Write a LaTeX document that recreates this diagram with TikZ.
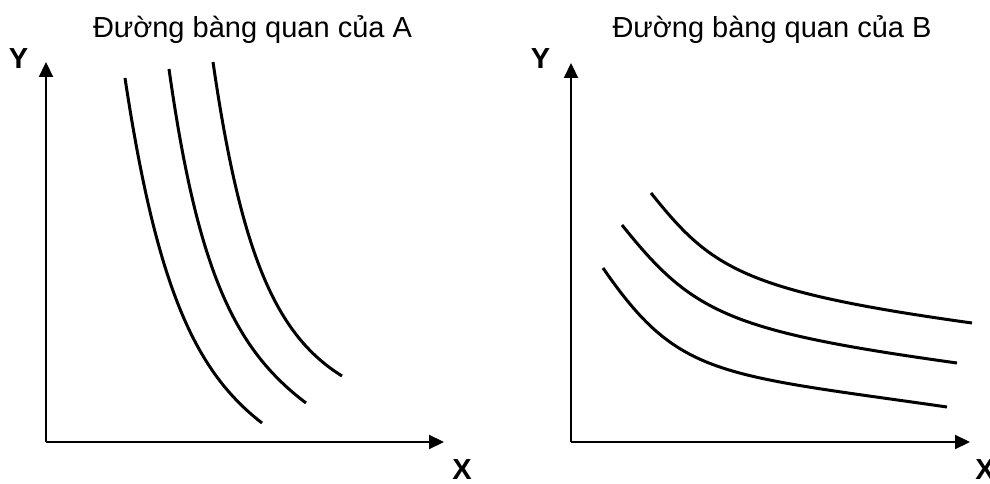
\documentclass[tikz,border=0pt]{standalone}
\usepackage{fontspec}
\setmainfont{Liberation Sans}
\usetikzlibrary{arrows.meta}
\begin{document}
\begin{tikzpicture}[x=1pt,y=-1pt,
  axis/.style={line width=2.2pt,-{Triangle[length=15pt,width=14pt]}},
  icurve/.style={line width=3pt},
  title/.style={anchor=base,inner sep=0pt,font=\fontsize{29}{34}\selectfont},
  axlabel/.style={anchor=base,inner sep=0pt,font=\fontsize{29}{34}\selectfont\bfseries}]
\useasboundingbox (0,0) rectangle (990,484);
% left panel
\coordinate (oA) at (46,442);
\coordinate (yA) at (46,62);
\coordinate (xA) at (444,442);
\draw[axis] (oA) -- (yA);
\draw[axis] (oA) -- (xA);
\node[title] (tA) at (252.5,37.5) {Đường bàng quan của A};
\node[axlabel] (lyA) at (18.5,69) {Y};
\node[axlabel] (lxA) at (462,479) {X};
\draw[icurve] (125,78) .. controls (157,290) and (196,372) .. (262,423);
\draw[icurve] (169,69) .. controls (198,275) and (236,350) .. (306,403);
\draw[icurve] (213,62) .. controls (241,255) and (276,335) .. (342,376);
% right panel
\coordinate (oB) at (571,442);
\coordinate (yB) at (571,63);
\coordinate (xB) at (970,442);
\draw[axis] (oB) -- (yB);
\draw[axis] (oB) -- (xB);
\node[title] (tB) at (772,37.5) {Đường bàng quan của B};
\node[axlabel] (lyB) at (540.5,69) {Y};
\node[axlabel] (lxB) at (985,479) {X};
\draw[icurve] (651,193) .. controls (711,268) and (742,291) .. (972,323);
\draw[icurve] (622,225) .. controls (692,312.5) and (727,331) .. (957,363);
\draw[icurve] (603,268) .. controls (678,377) and (717,374) .. (947,407);
\end{tikzpicture}
\end{document}
